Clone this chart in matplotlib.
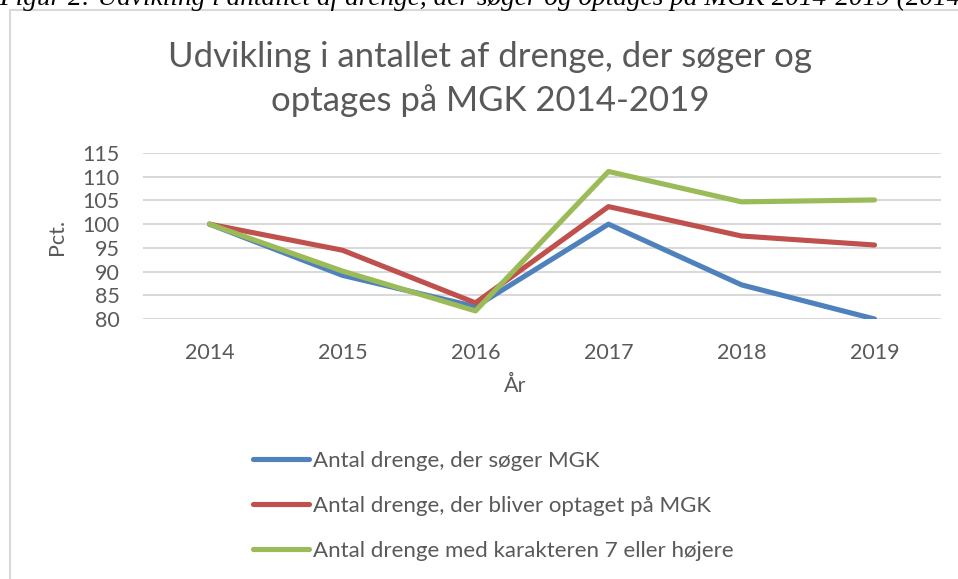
import numpy as np
import matplotlib.pyplot as plt
from matplotlib.patches import Rectangle

# data (index, 2014 = 100)
years = ["2014", "2015", "2016", "2017", "2018", "2019"]
soeger = [100, 89.2, 82.6, 100, 87.2, 80]
optaget = [100, 94.5, 83.4, 103.7, 97.5, 95.6]
karakter7 = [100, 90.1, 81.7, 111.1, 104.7, 105.1]
labels = ["Antal drenge, der søger MGK",
          "Antal drenge, der bliver optaget på MGK",
          "Antal drenge med karakteren 7 eller højere"]
colors = ["#4f81bd", "#c0504d", "#9bbb59"]
yticks = [80, 85, 90, 95, 100, 105, 110, 115]

plt.rcParams['font.family'] = ['Lato', 'DejaVu Sans']
grey = "#595959"

W, H = 958, 579
fig = plt.figure(figsize=(W/100, H/100), dpi=100)

# frame of the embedded chart (cut at right and bottom)
fig.patches.append(Rectangle((10/W, -0.1), 1.2, 1.1 - 10/H, transform=fig.transFigure,
                             fill=False, edgecolor="#d9d9d9", linewidth=1.5))

# cropped caption above the chart
fig.text(-1/W, 1 - 5/H, "Figur 2: Udvikling i antallet af drenge, der søger og optages på MGK 2014-2019 (2014",
         family="Liberation Serif", style="italic", fontsize=19.6, va="baseline", ha="left", color="black")

ax = fig.add_axes([143/W, 1 - 319/H, 798/W, 166/H])
x = np.arange(len(years))
data = [soeger, optaget, karakter7]
lines = []
for vals, c, lab in zip(data, colors, labels):
    l, = ax.plot(x, vals, color=c, linewidth=3.7, solid_capstyle="round", solid_joinstyle="round", label=lab)
    lines.append(l)

ax.set_xlim(-0.5, len(years) - 0.5)
ax.set_ylim(80, 115)
ax.set_yticks(yticks)
ax.set_xticks(x)
ax.set_xticklabels(years)
for s in ax.spines.values():
    s.set_visible(False)
ax.grid(axis="y", color="#d9d9d9", linewidth=1.5)
ax.set_axisbelow(True)
ax.tick_params(axis="both", length=0, labelsize=15.5, labelcolor=grey)
ax.tick_params(axis="y", pad=17)
ax.tick_params(axis="x", pad=17)

fig.text(57/W, 1 - 237/H, "Pct.", rotation=90, fontsize=15.5, color=grey, ha="center", va="center")
fig.text(515/W, 1 - 386/H, "År", fontsize=15.5, color=grey, ha="center", va="center")

fig.text(490/W, 1 - 57/H, "Udvikling i antallet af drenge, der søger og", fontsize=25, color=grey,
         ha="center", va="center")
fig.text(490/W, 1 - 101/H, "optages på MGK 2014-2019", fontsize=25, color=grey, ha="center", va="center")

leg = fig.legend(handles=lines, loc="upper left", bbox_to_anchor=(253/W, 1 - 451/H), frameon=False,
                 borderpad=0, borderaxespad=0,
                 fontsize=16, labelcolor=grey, handlelength=2.5, handletextpad=0.2, labelspacing=1.12)

fig.savefig("out.png", dpi=100)
